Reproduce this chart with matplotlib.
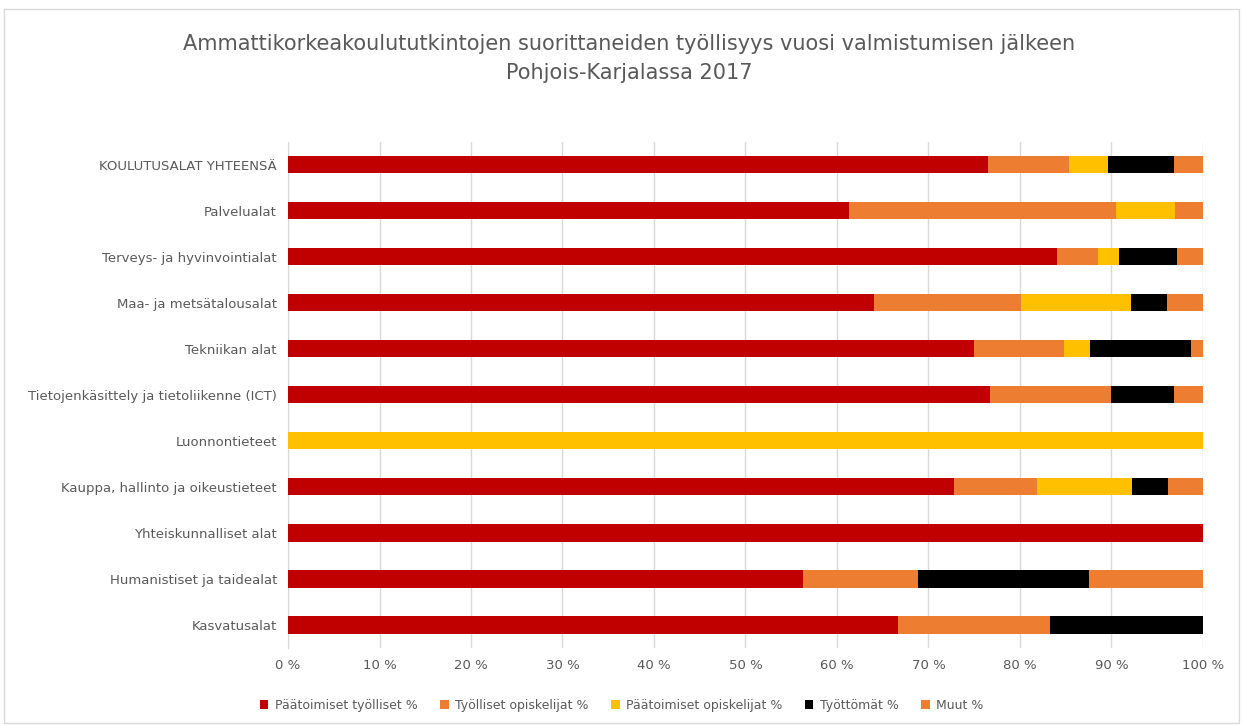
import matplotlib.pyplot as plt
import numpy as np
from matplotlib.patches import Rectangle

categories = ["KOULUTUSALAT YHTEENSÄ", "Palvelualat", "Terveys- ja hyvinvointialat",
              "Maa- ja metsätalousalat", "Tekniikan alat",
              "Tietojenkäsittely ja tietoliikenne (ICT)", "Luonnontieteet",
              "Kauppa, hallinto ja oikeustieteet", "Yhteiskunnalliset alat",
              "Humanistiset ja taidealat", "Kasvatusalat"]

series_names = ["Päätoimiset työlliset %", "Työlliset opiskelijat %",
                "Päätoimiset opiskelijat %", "Työttömät %", "Muut %"]

paatoimiset_tyolliset = [76.5, 61.3, 84.0, 64.0, 75.0, 76.7, 0, 72.8, 100, 56.3, 66.7]
tyolliset_opiskelijat = [8.9, 29.2, 4.5, 16.1, 9.8, 13.3, 0, 9.1, 0, 12.5, 16.6]
paatoimiset_opiskelijat = [4.2, 6.4, 2.3, 12.0, 2.8, 0, 100, 10.3, 0, 0, 0]
tyottomat = [7.2, 0, 6.4, 4.0, 11.1, 6.8, 0, 4.0, 0, 18.7, 16.7]
muut = [3.2, 3.1, 2.8, 3.9, 1.3, 3.2, 0, 3.8, 0, 12.5, 0]

colors = ["#C00000", "#ED7D31", "#FFC000", "#000000", "#ED7D31"]
grey = "#595959"

fig = plt.figure(figsize=(12.43, 7.25), dpi=100)
fig.patches.append(Rectangle((0.003, 0.003), 0.994, 0.984, transform=fig.transFigure,
                             fill=False, edgecolor="#d9d9d9", linewidth=1))
ax = fig.add_axes([0.2317, 0.1062, 0.7361, 0.698])

y = np.arange(len(categories))
left = np.zeros(len(categories))
for name, vals, c in zip(series_names,
                         [paatoimiset_tyolliset, tyolliset_opiskelijat,
                          paatoimiset_opiskelijat, tyottomat, muut], colors):
    vals = np.array(vals, dtype=float)
    ax.barh(y, vals, left=left, height=0.37, color=c, label=name, zorder=3)
    left += vals

ax.set_ylim(len(categories) - 0.5, -0.5)
ax.set_xlim(0, 100)
ax.set_yticks(y)
ax.set_yticklabels(categories, fontsize=9.5, color=grey)
ax.set_xticks(np.arange(0, 101, 10))
ax.set_xticklabels([f"{v} %" for v in range(0, 101, 10)], fontsize=9.5, color=grey)
ax.tick_params(length=0, pad=8)
ax.grid(axis="x", color="#d9d9d9", linewidth=1, zorder=0)
for s in ["top", "right", "bottom"]:
    ax.spines[s].set_visible(False)
ax.spines["left"].set_color("#d9d9d9")

fig.text(0.506, 0.94, "Ammattikorkeakoulututkintojen suorittaneiden työllisyys vuosi valmistumisen jälkeen",
         ha="center", va="center", fontsize=15, color=grey)
fig.text(0.506, 0.899, "Pohjois-Karjalassa 2017", ha="center", va="center",
         fontsize=15, color=grey)

ax.legend(loc="center", bbox_to_anchor=(0.5, 0.5), bbox_transform=fig.transFigure,
          ncol=5, frameon=False, fontsize=9, labelcolor=grey, handlelength=0.7,
          handleheight=0.7, columnspacing=1.8, handletextpad=0.5)
leg = ax.get_legend()
leg.set_bbox_to_anchor((0.5, 0.027), transform=fig.transFigure)

fig.savefig("out.png", dpi=100)
